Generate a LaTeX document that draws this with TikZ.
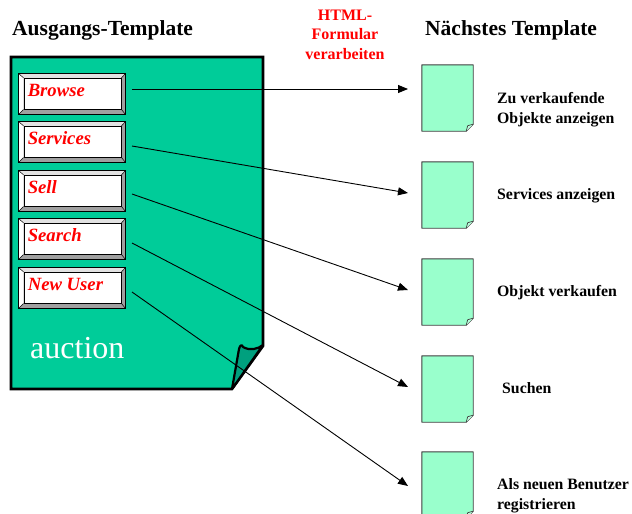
\documentclass[tikz,border=0pt]{standalone}
\usepackage{fontspec}
\setmainfont{Liberation Serif}
\usetikzlibrary{arrows.meta,calc}
\definecolor{docteal}{HTML}{00CC99}
\definecolor{flapteal}{HTML}{00A07E}
\definecolor{pagemint}{HTML}{99FFCC}
\definecolor{pageedge}{HTML}{3F3F3F}
\definecolor{bevdark}{HTML}{A0A0A0}
\definecolor{bevtop}{HTML}{E2E2E2}
\definecolor{htmlred}{HTML}{FF0000}

\begin{document}
\begin{tikzpicture}[x=1pt,y=-1pt,
  title/.style={font=\fontsize{21.5}{24}\selectfont\bfseries, inner sep=0pt, anchor=base west},
  btnouter/.style={draw=black, line width=0.9pt, fill=bevdark, minimum width=106pt, minimum height=40pt, inner sep=0pt},
  btnface/.style={draw=black, line width=0.7pt, fill=white, minimum width=97pt, minimum height=30.7pt, inner sep=0pt, anchor=north west},
  btntext/.style={font=\fontsize{18.7}{22}\selectfont\bfseries\itshape, text=htmlred, inner sep=0pt, anchor=base west},
  pagebox/.style={minimum width=51pt, minimum height=66pt, inner sep=0pt},
  pageshape/.style={draw=pageedge, line width=0.9pt, fill=pagemint, line join=round},
  pagefold/.style={draw=pageedge, line width=0.7pt, fill=pagemint!70!white, line join=round},
  lbl/.style={font=\fontsize{15.8}{20}\selectfont\bfseries, inner sep=0pt, align=left},
  link/.style={line width=0.9pt, -{Triangle[length=10pt,width=8pt]}},
]
\useasboundingbox (0,0) rectangle (632,514);

% headings
\node[title] (srctitle) at (12,35) {Ausgangs-Template};
\node[title] (dsttitle) at (425,35) {Nächstes Template};
\node[font=\fontsize{16}{19.5}\selectfont\bfseries, text=htmlred, align=center,
      anchor=north, inner sep=0pt] (action) at (345,9.4) {HTML-\\Formular\\verarbeiten};

% source template page with turned-up corner
\path[fill=docteal, draw=black, line width=2.6pt, line join=miter]
  (11,57) -- (263,57) -- (263,346) -- (232,389) -- (11,389) -- cycle;
\draw[fill=flapteal, line width=2.2pt, line join=round]
  (239,349) .. controls (240,345) and (242,344) .. (243,347)
  .. controls (250,351) and (258,349) .. (263,345) -- (232,389) -- cycle;
\node[font=\fontsize{32}{36}\selectfont, text=white, inner sep=0pt, anchor=base west]
  (auctionlbl) at (30,358) {auction};

% bevelled form buttons
\foreach \nm/\txt/\tp in {browse/Browse/74, services/Services/122, sell/Sell/171, search/Search/219, newuser/New User/268} {
  \node[btnouter] (\nm) at (72,{\tp+20}) {};
  \fill[bevtop] (\nm.north west) -- (\nm.north east) -- ($(\nm.north east)+(-4,4.3)$)
     -- ($(\nm.north west)+(5,4.3)$) -- cycle;
  \fill[white] (\nm.north west) -- ($(\nm.north west)+(5,4.3)$) -- ($(\nm.south west)+(5,-5)$)
     -- (\nm.south west) -- cycle;
  \draw[line width=0.5pt] (\nm.north west) -- ++(5,4.3)
                          (\nm.north east) -- ++(-4,4.3)
                          (\nm.south west) -- ++(5,-5)
                          (\nm.south east) -- ++(-4,-5);
  \node[btnface] (\nm-face) at ($(\nm.north west)+(5,4.3)$) {};
  \draw[line width=0.9pt] (\nm.north west) rectangle (\nm.south east);
  \node[btntext] (\nm-txt) at ($(\nm.north west)+(9,23)$) {\txt};
}

% target template pages
\foreach \i/\tp in {1/65, 2/162, 3/259, 4/356, 5/452} {
  \node[pagebox] (page\i) at (447.5,{\tp+33}) {};
  \draw[pageshape] (page\i.north west) -- (page\i.north east) -- ($(page\i.south east)+(0,-7)$)
     -- ($(page\i.south east)+(-7,0)$) -- (page\i.south west) -- cycle;
  \draw[pagefold] ($(page\i.south east)+(-7,0)$) -- ($(page\i.south east)+(-5.5,-5.5)$)
     -- ($(page\i.south east)+(0,-7)$);
}

% connector end points
\coordinate (s1) at (132,89);
\coordinate (s2) at (132,146);
\coordinate (s3) at (132,194);
\coordinate (s4) at (132,243);
\coordinate (s5) at (132,292);
\coordinate (t1) at (408,89);
\coordinate (t2) at (408,193);
\coordinate (t3) at (408,290);
\coordinate (t4) at (408,387);
\coordinate (t5) at (408,486);
\foreach \i in {1,...,5} { \draw[link] (s\i) -- (t\i); }

% descriptions of the next templates
\node[lbl, anchor=north west] (lab1) at (497,92.3) {Zu verkaufende\\Objekte anzeigen};
\node[lbl, anchor=base west] (lab2) at (497,199) {Services anzeigen};
\node[lbl, anchor=base west] (lab3) at (497,296) {Objekt verkaufen};
\node[lbl, anchor=base west] (lab4) at (502,393) {Suchen};
\node[lbl, anchor=north west] (lab5) at (497,478.3) {Als neuen Benutzer\\registrieren};
\end{tikzpicture}
\end{document}
